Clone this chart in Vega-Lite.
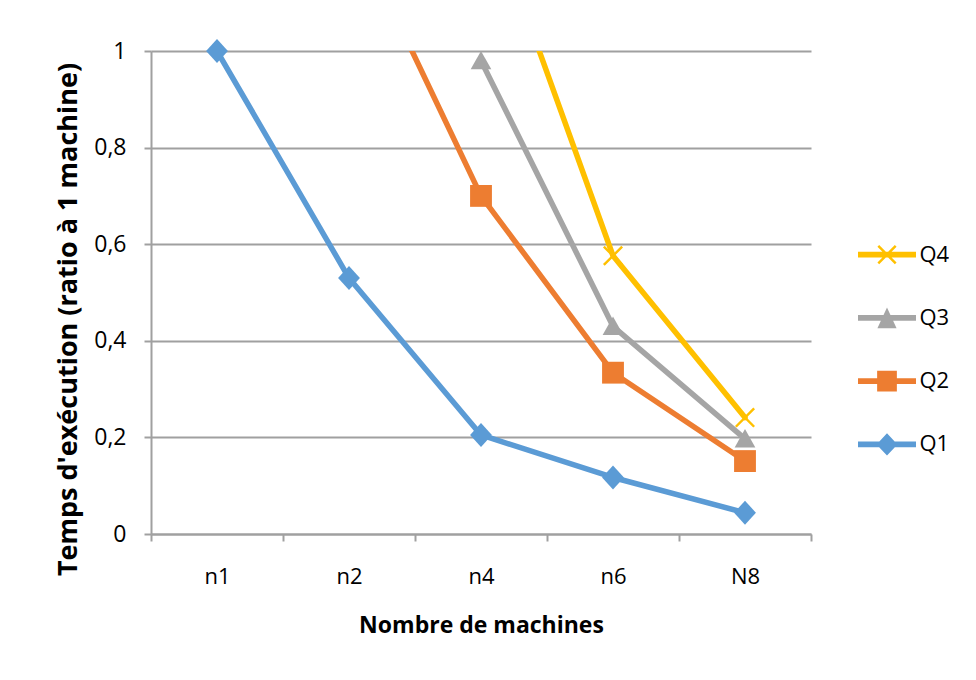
{
  "$schema": "https://vega.github.io/schema/vega-lite/v6.json",
  "autosize": {"type": "pad"},
  "padding": {"left": 54, "top": 38, "right": 0, "bottom": 20},
  "background": "white",
  "spacing": 46,
  "config": {
    "view": {"stroke": null},
    "font": "Open Sans",
    "axis": {
      "labelFont": "Open Sans",
      "titleFont": "Open Sans",
      "labelColor": "#000000",
      "titleColor": "#000000",
      "domainColor": "#A0A0A0",
      "domainWidth": 2,
      "tickColor": "#A0A0A0",
      "tickWidth": 2,
      "gridColor": "#A0A0A0",
      "gridWidth": 2
    }
  },
  "hconcat": [
    {
      "width": 660,
      "height": 483,
      "data": {
        "values": [
          {"query": "Q1", "machines": "n1", "ratio": 1.0},
          {"query": "Q1", "machines": "n2", "ratio": 0.53},
          {"query": "Q1", "machines": "n4", "ratio": 0.205},
          {"query": "Q1", "machines": "n6", "ratio": 0.117},
          {"query": "Q1", "machines": "N8", "ratio": 0.044},
          {"query": "Q2", "machines": "n2", "ratio": 1.274},
          {"query": "Q2", "machines": "n4", "ratio": 0.70},
          {"query": "Q2", "machines": "n6", "ratio": 0.334},
          {"query": "Q2", "machines": "N8", "ratio": 0.151},
          {"query": "Q3", "machines": "n4", "ratio": 0.98},
          {"query": "Q3", "machines": "n6", "ratio": 0.43},
          {"query": "Q3", "machines": "N8", "ratio": 0.197},
          {"query": "Q4", "machines": "n4", "ratio": 1.335},
          {"query": "Q4", "machines": "n6", "ratio": 0.576},
          {"query": "Q4", "machines": "N8", "ratio": 0.241}
        ]
      },
      "encoding": {
        "x": {
          "field": "machines",
          "type": "ordinal",
          "bandPosition": 0.5,
          "scale": {"type": "band", "domain": ["n1", "n2", "n4", "n6", "N8"], "paddingInner": 0, "paddingOuter": 0},
          "axis": {
            "title": "Nombre de machines",
            "titleFontSize": 23,
            "titleFontWeight": "bold",
            "titlePadding": 27,
            "labelFontSize": 22,
            "labelAngle": 0,
            "labelPadding": 25,
            "tickBand": "extent",
            "tickSize": 7,
            "grid": false
          }
        },
        "y": {
          "field": "ratio",
          "type": "quantitative",
          "scale": {"domain": [0, 1], "nice": false},
          "axis": {
            "title": "Temps d'exécution (ratio à 1 machine)",
            "titleFontSize": 27,
            "titleFontWeight": "bold",
            "titlePadding": 11,
            "titleY": 268,
            "values": [0, 0.2, 0.4, 0.6, 0.8, 1],
            "format": ".1~f",
            "labelExpr": "replace(datum.label, '.', ',')",
            "labelFontSize": 23,
            "labelPadding": 18,
            "tickSize": 7,
            "grid": true
          }
        }
      },
      "layer": [
        {
          "mark": {"type": "line", "clip": true, "strokeWidth": 5.5, "strokeCap": "round", "strokeJoin": "round"},
          "encoding": {
            "stroke": {"field": "query", "type": "nominal", "scale": {"domain": ["Q4", "Q3", "Q2", "Q1"], "range": ["#FFC000", "#A5A5A5", "#ED7D31", "#5B9BD5"]}, "legend": null},
            "order": {"value": null}
          }
        },
        {
          "transform": [{"filter": "datum.ratio <= 1 && datum.query == 'Q1'"}],
          "mark": {"type": "point", "filled": true, "opacity": 1, "size": 529, "strokeWidth": 0, "color": "#5B9BD5", "shape": "M0,-1.05L0.95,0L0,1.05L-0.95,0Z"}
        },
        {
          "transform": [{"filter": "datum.ratio <= 1 && datum.query == 'Q2'"}],
          "mark": {"type": "point", "filled": true, "opacity": 1, "size": 529, "strokeWidth": 0, "color": "#ED7D31", "shape": "M-0.95,-0.95H0.95V0.95H-0.95Z"}
        },
        {
          "transform": [{"filter": "datum.ratio <= 1 && datum.query == 'Q3'"}],
          "mark": {"type": "point", "filled": true, "opacity": 1, "size": 529, "strokeWidth": 0, "color": "#A5A5A5", "shape": "M0,-0.85L0.9,0.75H-0.9Z"}
        },
        {
          "transform": [{"filter": "datum.ratio <= 1 && datum.query == 'Q4'"}],
          "mark": {"type": "point", "filled": true, "opacity": 1, "size": 529, "strokeWidth": 0, "color": "#FFC000", "shape": "M-0.87,-0.72L-0.72,-0.87L0.87,0.72L0.72,0.87Z M-0.87,0.72L0.72,-0.87L0.87,-0.72L-0.72,0.87Z"}
        }
      ]
    },
    {
      "width": 58,
      "height": 483,
      "data": {"values": [{"query": "Q4"}, {"query": "Q3"}, {"query": "Q2"}, {"query": "Q1"}]},
      "mark": {"type": "point", "filled": true, "opacity": 1, "size": 3364, "strokeWidth": 0},
      "encoding": {
        "y": {
          "field": "query",
          "type": "nominal",
          "scale": {"type": "band", "domain": ["Q4", "Q3", "Q2", "Q1"], "paddingInner": 0, "paddingOuter": 0, "range": [172, 425]},
          "axis": {"orient": "right", "title": null, "domain": false, "ticks": false, "grid": false, "labelPadding": 3, "labelFontSize": 22, "labelColor": "#000000"}
        },
        "color": {
          "field": "query",
          "type": "nominal",
          "scale": {"domain": ["Q4", "Q3", "Q2", "Q1"], "range": ["#FFC000", "#A5A5A5", "#ED7D31", "#5B9BD5"]},
          "legend": null
        },
        "shape": {
          "field": "query",
          "type": "nominal",
          "scale": {
            "domain": ["Q4", "Q3", "Q2", "Q1"],
            "range": [
              "M-1,-0.1H1V0.1H-1Z M-0.33,-0.27L-0.27,-0.33L0.33,0.27L0.27,0.33Z M-0.33,0.27L0.27,-0.33L0.33,-0.27L-0.27,0.33Z",
              "M-1,-0.1H1V0.1H-1Z M0,-0.36L0.33,0.36H-0.33Z",
              "M-1,-0.1H1V0.1H-1Z M-0.34,-0.36H0.34V0.36H-0.34Z",
              "M-1,-0.1H1V0.1H-1Z M0,-0.38L0.36,0L0,0.38L-0.36,0Z"
            ]
          },
          "legend": null
        }
      }
    }
  ]
}
